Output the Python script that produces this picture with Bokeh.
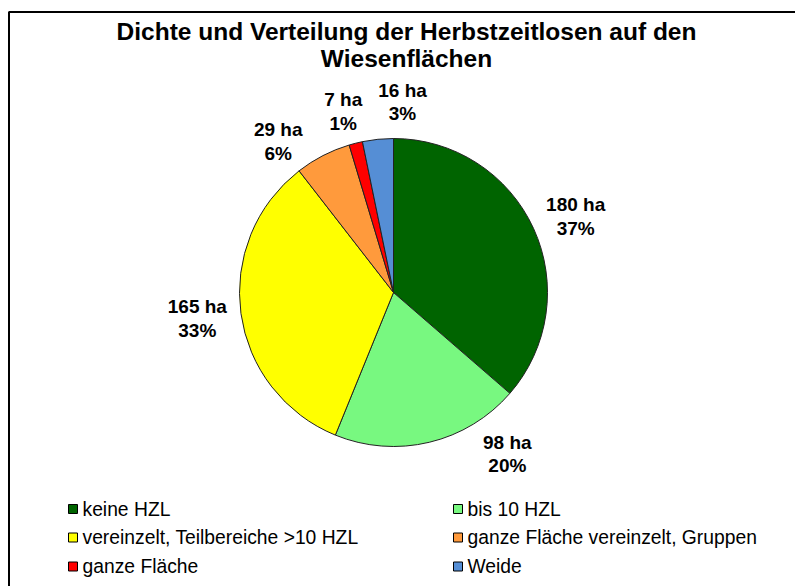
import math
from bokeh.plotting import figure
from bokeh.models import Range1d
from bokeh.core.properties import value
from bokeh.embed import file_html
from bokeh.resources import INLINE

# ---- data ----
categories = ["keine HZL", "bis 10 HZL", "vereinzelt, Teilbereiche >10 HZL",
              "ganze Fläche vereinzelt, Gruppen", "ganze Fläche", "Weide"]
hectares = [180, 98, 165, 29, 7, 16]
percent_labels = ["37%", "20%", "33%", "6%", "1%", "3%"]
colors = ["#006400", "#78F880", "#FFFF00", "#FF9A3C", "#FF0000", "#558ED5"]
title_lines = ["Dichte und Verteilung der Herbstzeitlosen auf den", "Wiesenflächen"]

# ---- style / layout ----
W, H = 795, 586
FONT = "Liberation Sans"
cx, cy, r = 393, 294, 154          # pie centre and radius (px)
label_dist = 197
label_nudge = [(3, 6), (68, -30), (-1, -1), (-25, 24), (-2, 10), (29, 5.5)]  # px (right, down)

p = figure(width=W, height=H, output_backend="svg", toolbar_location=None,
           x_range=Range1d(0, W), y_range=Range1d(0, H), min_border=0,
           outline_line_color=None, tools="")
p.axis.visible = False
p.xgrid.visible = False
p.ygrid.visible = False
p.background_fill_color = "white"
p.border_fill_color = "white"

# frame border
p.quad(left=[8.5], right=[W + 20], top=[H - 11.5], bottom=[-20],
       fill_color=None, line_color="#000000", line_width=2)

# pie
total = float(sum(hectares))
starts, ends, mids = [], [], []
acc = 0.0
for v in hectares:
    a0 = acc / total * 2 * math.pi
    acc += v
    a1 = acc / total * 2 * math.pi
    starts.append(math.pi / 2 - a1)
    ends.append(math.pi / 2 - a0)
    mids.append((a0 + a1) / 2)

p.wedge(x=[cx] * len(hectares), y=[cy] * len(hectares), radius=r,
        start_angle=starts, end_angle=ends,
        fill_color=colors, line_color="#222222", line_width=1)

# data labels
lx, ly, ltxt = [], [], []
for m, v, pc, (ndx, ndy) in zip(mids, hectares, percent_labels, label_nudge):
    lx.append(cx + label_dist * math.sin(m) + ndx)
    ly.append(cy + label_dist * math.cos(m) - ndy)
    ltxt.append(f"{v} ha\n{pc}")
p.text(x=lx, y=ly, text=ltxt, text_font=value(FONT), text_font_style="bold",
       text_font_size="19px", text_align="center", text_baseline="middle",
       text_color="#000000", text_line_height=1.12)

# title
p.text(x=[406, 406], y=[H - 31, H - 58], text=title_lines, text_font=value(FONT),
       text_font_style="bold", text_font_size="24.5px", text_align="center",
       text_baseline="middle", text_color="#000000")

# legend (two columns, row-major)
col_x = [72.5, 457.5]
row_y = [H - 508.5, H - 537, H - 566]
sq_x, sq_y, tx, ty = [], [], [], []
for i, name in enumerate(categories):
    c, rr = i % 2, i // 2
    sq_x.append(col_x[c])
    sq_y.append(row_y[rr])
    tx.append(col_x[c] + 9.5)
    ty.append(row_y[rr])
p.scatter(x=sq_x, y=sq_y, marker="square", size=9, fill_color=colors,
          line_color="#000000", line_width=1)
p.text(x=tx, y=ty, text=categories, text_font=value(FONT), text_font_size="19.3px",
       text_align="left", text_baseline="middle", text_color="#000000")

open("out.html", "w").write(file_html(p, INLINE))
